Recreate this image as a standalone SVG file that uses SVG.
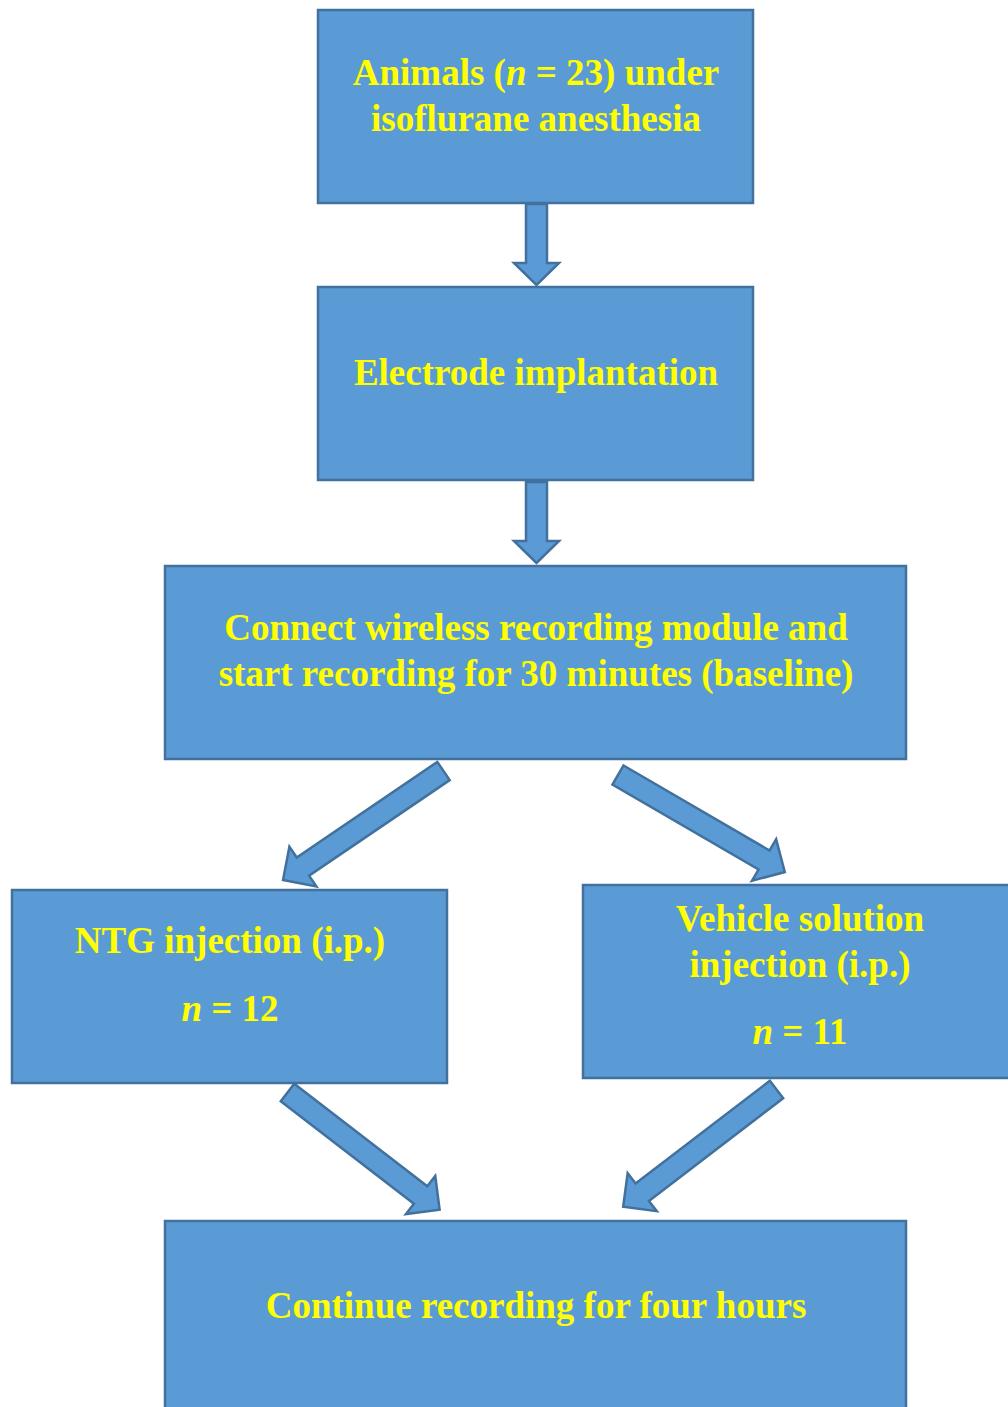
<svg xmlns="http://www.w3.org/2000/svg" width="1008" height="1407" viewBox="0 0 1008 1407">
<style>
.box{fill:#5B9BD5;stroke:#41719C;stroke-width:2.5}
.arr{fill:#5B9BD5;stroke:#41719C;stroke-width:2.5;stroke-linejoin:miter}
text{font-family:"Liberation Serif","Times New Roman",serif;font-weight:bold;font-size:37px;fill:#FFFF00;text-anchor:middle}
</style>
<rect width="1008" height="1407" fill="#FFFFFF"/>
<g id="connectors">
<polygon class="arr" points="526,204 547,204 547,263 559,263 536.5,285 514,263 526,263"/>
<polygon class="arr" points="526,482 547,482 547,541 559,541 536.5,563 514,541 526,541"/>
<g transform="translate(443.5,771) rotate(145.8)"><polygon class="arr" points="0,-11 170,-11 170,-24 194,0 170,24 170,11 0,11"/></g>
<g transform="translate(618,775) rotate(30.2)"><polygon class="arr" points="0,-11 169,-11 169,-24 193,0 169,24 169,11 0,11"/></g>
<g transform="translate(287.5,1092.5) rotate(37.6)"><polygon class="arr" points="0,-11 168,-11 168,-24 192,0 168,24 168,11 0,11"/></g>
<g transform="translate(776.5,1089.5) rotate(142.6)"><polygon class="arr" points="0,-11 169,-11 169,-24 193,0 169,24 169,11 0,11"/></g>
</g>
<g id="node1">
<rect class="box" x="318" y="10" width="435" height="193"/>
<text x="536" y="85">Animals (<tspan font-style="italic">n</tspan> = 23) under</text>
<text x="536" y="131">isoflurane anesthesia</text>
</g>
<g id="node2">
<rect class="box" x="318" y="287" width="435" height="193"/>
<text x="536" y="385">Electrode implantation</text>
</g>
<g id="node3">
<rect class="box" x="165" y="566" width="741" height="193"/>
<text x="536" y="640">Connect wireless recording module and</text>
<text x="536" y="686">start recording for 30 minutes (baseline)</text>
</g>
<g id="node4">
<rect class="box" x="12" y="890" width="435" height="193"/>
<text x="230" y="953">NTG injection (i.p.)</text>
<text x="230" y="1021"><tspan font-style="italic">n</tspan> = 12</text>
</g>
<g id="node5">
<rect class="box" x="583" y="885" width="435" height="193"/>
<text x="800" y="931">Vehicle solution</text>
<text x="800" y="977">injection (i.p.)</text>
<text x="800" y="1044"><tspan font-style="italic">n</tspan> = 11</text>
</g>
<g id="node6">
<rect class="box" x="165" y="1221" width="741" height="200"/>
<text x="536" y="1318">Continue recording for four hours</text>
</g>
</svg>
